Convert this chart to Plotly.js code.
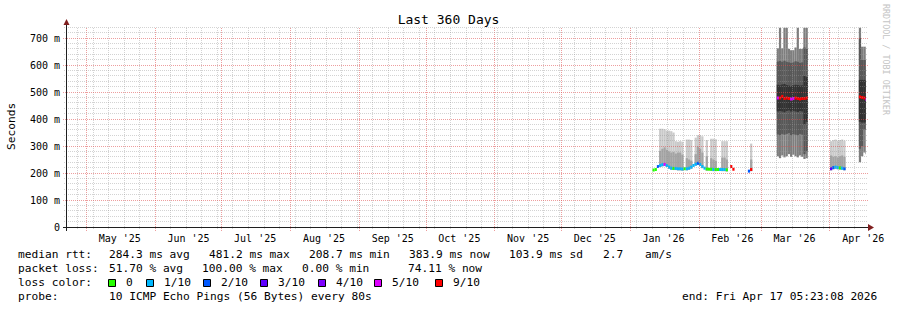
<!DOCTYPE html>
<html><head><meta charset="utf-8">
<script src="https://cdn.plot.ly/plotly-3.0.1.min.js"></script>
<style>html,body{margin:0;padding:0;background:#fff}#chart{width:897px;height:310px}</style>
</head><body><div id="chart"></div>
<script>
const _ = null;
// ---- time range ----
const rangeStart = '2025-04-22 05:23:08';
const rangeEnd = '2026-04-17 05:23:08';

// ---- daily buckets that hold data ----
const days = [
 '2026-01-11','2026-01-12','2026-01-13','2026-01-14','2026-01-15','2026-01-16','2026-01-17','2026-01-18','2026-01-19','2026-01-20',
 '2026-01-21','2026-01-22','2026-01-23','2026-01-24','2026-01-25','2026-01-26','2026-01-27','2026-01-28','2026-01-29','2026-01-30',
 '2026-01-31','2026-02-01','2026-02-02','2026-02-03','2026-02-04','2026-02-05','2026-02-06','2026-02-07','2026-02-08','2026-02-09',
 '2026-02-10','2026-02-11','2026-02-12','2026-02-13',
 '2026-02-15','2026-02-16',
 '2026-02-23','2026-02-24',
 '2026-03-08','2026-03-09','2026-03-10','2026-03-11','2026-03-12','2026-03-13','2026-03-14','2026-03-15','2026-03-16','2026-03-17',
 '2026-03-18','2026-03-19','2026-03-20','2026-03-21',
 '2026-04-01','2026-04-02','2026-04-03','2026-04-04','2026-04-05','2026-04-06','2026-04-07',
 '2026-04-14','2026-04-15','2026-04-16','2026-04-17'
];
// median rtt (ms)
const medianRtt = [
 211,213,224,228,231,232,228,222,218,217,
 217,216,216,215,216,216,218,222,228,233,
 236,232,224,218,215,214,214,213,213,213,
 213,213,213,212,
 224,214,
 207,213,
 478,478,484,476,478,476,474,476,478,476,474,476,476,478,
 216,220,222,220,219,218,216,
 482,480,478,472
];
// lost pings out of 10
const lostPings = [
 0,0,2,1,1,5,1,1,1,0,
 1,1,1,1,0,1,1,1,1,1,
 2,1,1,1,0,0,0,1,0,0,
 1,1,1,0,
 9,9,
 2,9,
 5,9,9,9,9,9,5,5,9,9,9,9,9,9,
 3,2,1,1,0,1,2,
 9,9,9,5
];
// smoke bands (ms): outer -> inner
const smoke1Lo = [
 _,_,_,222,225,226,222,216,212,211,
 211,210,210,209,_,210,212,216,_,227,
 230,226,218,_,209,_,208,207,207,_,
 _,207,207,206,
 _,_,
 _,207,
 _,_,_,_,_,_,_,_,_,_,_,_,_,_,
 210,214,216,214,213,212,210,
 _,_,_,_
];
const smoke1Hi = [
 _,_,_,364,364,362,357,357,355,350,
 318,316,318,316,_,324,324,322,_,331,
 340,340,336,_,322,_,327,327,325,_,
 _,318,318,318,
 _,_,
 _,309,
 _,_,_,_,_,_,_,_,_,_,_,_,_,_,
 318,322,324,320,322,324,320,
 _,_,_,_
];
const smoke2Lo = [
 _,_,_,222,225,226,222,216,212,211,
 211,210,210,209,_,210,212,216,_,227,
 230,226,218,_,209,_,208,207,207,_,
 _,207,207,206,
 _,_,
 _,207,
 _,_,_,_,_,_,_,_,_,_,_,_,_,_,
 210,214,216,214,213,212,210,
 _,_,_,_
];
const smoke2Hi = [
 _,_,_,282,290,295,286,280,276,278,
 272,276,276,268,_,255,250,246,_,270,
 298,290,276,_,262,_,255,250,245,_,
 _,257,257,250,
 _,_,
 _,250,
 _,_,_,_,_,_,_,_,_,_,_,_,_,_,
 265,260,262,258,262,265,260,
 _,_,_,_
];
const smoke3Lo = [
 _,_,_,_,_,_,_,_,_,_, _,_,_,_,_,_,_,_,_,_, _,_,_,_,_,_,_,_,_,_, _,_,_,_, _,_, _,_,
 262,255,265,258,262,270,260,268,262,258,265,260,252,255,
 _,_,_,_,_,_,_,
 240,262,276,270
];
const smoke3Hi = [
 _,_,_,_,_,_,_,_,_,_, _,_,_,_,_,_,_,_,_,_, _,_,_,_,_,_,_,_,_,_, _,_,_,_, _,_, _,_,
 662,738,662,738,738,660,655,655,665,738,660,660,738,738,
 _,_,_,_,_,_,_,
 738,668,668,668
];
const smoke4Lo = [
 _,_,_,_,_,_,_,_,_,_, _,_,_,_,_,_,_,_,_,_, _,_,_,_,_,_,_,_,_,_, _,_,_,_, _,_, _,_,
 343,340,345,342,345,348,340,344,342,340,345,342,270,280,
 _,_,_,_,_,_,_,
 290,300,361,360
];
const smoke4Hi = [
 _,_,_,_,_,_,_,_,_,_, _,_,_,_,_,_,_,_,_,_, _,_,_,_,_,_,_,_,_,_, _,_,_,_, _,_, _,_,
 613,615,612,616,612,610,608,610,614,612,608,610,665,660,
 _,_,_,_,_,_,_,
 700,619,619,619
];
const smoke5Lo = [
 _,_,_,_,_,_,_,_,_,_, _,_,_,_,_,_,_,_,_,_, _,_,_,_,_,_,_,_,_,_, _,_,_,_, _,_, _,_,
 428,430,428,425,430,432,428,430,428,426,430,428,380,390,
 _,_,_,_,_,_,_,
 390,387,387,390
];
const smoke5Hi = [
 _,_,_,_,_,_,_,_,_,_, _,_,_,_,_,_,_,_,_,_, _,_,_,_,_,_,_,_,_,_, _,_,_,_, _,_, _,_,
 527,525,528,530,526,524,522,525,527,526,524,525,560,555,
 _,_,_,_,_,_,_,
 545,545,545,540
];

// ---- axes ----
const monthStarts = ['2025-05-01','2025-06-01','2025-07-01','2025-08-01','2025-09-01','2025-10-01',
  '2025-11-01','2025-12-01','2026-01-01','2026-02-01','2026-03-01','2026-04-01'];
const monthLabelAt = ['2025-05-16','2025-06-16','2025-07-16','2025-08-16','2025-09-16','2025-10-16',
  '2025-11-16','2025-12-16','2026-01-16','2026-02-16','2026-03-16','2026-04-16'];
const monthLabels = ["May '25","Jun '25","Jul '25","Aug '25","Sep '25","Oct '25",
  "Nov '25","Dec '25","Jan '26","Feb '26","Mar '26","Apr '26"];
const yTickVals = [0,100,200,300,400,500,600,700];
const yTickText = ['0','100 m','200 m','300 m','400 m','500 m','600 m','700 m'];

// ---- legend / stats ----
const lossLevels = [0,1,2,3,4,5,9];
const lossNames = ['0','1/10','2/10','3/10','4/10','5/10','9/10'];
const lossColors = ['#26ff00','#00b8ff','#0059ff','#5e00ff','#7e00ff','#dd00ff','#ff0000'];
const rttStats = ['284.3 ms avg','481.2 ms max','208.7 ms min','383.9 ms now','103.9 ms sd','2.7','am/s'];
const lossStats = ['51.70 % avg','100.00 % max','0.00 % min','74.11 % now'];
const probeText = '10 ICMP Echo Pings (56 Bytes) every 80s';
const endText = 'end: Fri Apr 17 05:23:08 2026';

// ================= drawing =================
const W = 897, H = 310, L = 67, R = 31, T = 27, B = 83;
const PW = W - L - R, PH = H - T - B;
const YMAX = 741;
const DAY = 86400000;
const px = x => (x - L) / PW;          // pixel x -> paper
const py = y => (H - B - y) / PH;      // pixel y -> paper
const MONO = 'DejaVu Sans Mono';
const smokeCols = ['#cacaca','#a4a4a4','#7e7e7e','#585858','#323232'];
const t0 = Date.parse(rangeStart.replace(' ', 'T') + 'Z');
const t1 = Date.parse(rangeEnd.replace(' ', 'T') + 'Z');
// pixel column of a date (for crisp grid lines)
const colOf = d => Math.floor(L + (Date.parse(d + 'T00:00:00Z') - t0) / (t1 - t0) * PW) + 0.5;
const rowOf = v => Math.floor(H - B - v / YMAX * PH) + 0.5;

function band(lo, hi, color) {
  return {type:'bar', x: days, base: lo,
    y: hi.map((h, i) => (h == null || lo[i] == null) ? null : h - lo[i]),
    width: DAY, offset: 0, marker: {color: color, line: {width: 0}},
    hoverinfo: 'skip', showlegend: false};
}
const MED_H = 11;
const colorOfLoss = l => lossColors[lossLevels.indexOf(l)] || '#ff0000';
const traces = [
  band(smoke1Lo, smoke1Hi, smokeCols[0]),
  band(smoke2Lo, smoke2Hi, smokeCols[1]),
  band(smoke3Lo, smoke3Hi, smokeCols[2]),
  band(smoke4Lo, smoke4Hi, smokeCols[3]),
  band(smoke5Lo, smoke5Hi, smokeCols[4]),
  {type:'bar', x: days, base: medianRtt.map(m => m == null ? null : m - MED_H/2),
   y: medianRtt.map(m => m == null ? null : MED_H), width: DAY, offset: 0,
   marker: {color: lostPings.map(colorOfLoss), line: {width: 0}}, hoverinfo: 'skip', showlegend: false},
  {type:'scatter', x: [], y: [], xaxis: 'x2', yaxis: 'y', showlegend: false, hoverinfo: 'skip'}
];

// grid (drawn above data, like rrdtool)
const GRID = 'rgba(150,150,150,0.42)';
const MGRID = 'rgba(222,79,79,0.55)';
const shapes = [];
function vline(d, color, bottomPx) {
  const c = colOf(d);
  shapes.push({type:'line', layer:'above', xref:'paper', yref:'paper', x0:px(c), x1:px(c),
    y0:py(bottomPx), y1:py(T), line:{color:color, width:1, dash:'1px,1px'}});
}
// weekly minor verticals (Sundays)
{
  let t = Date.UTC(2025, 3, 27);
  while (t <= t1) {
    const d = new Date(t).toISOString().slice(0, 10);
    if (monthStarts.indexOf(d) < 0) vline(d, GRID, 229);
    t += 7 * DAY;
  }
}
monthStarts.forEach(d => vline(d, MGRID, 231));
for (let v = 20; v <= YMAX; v += 20) {
  const major = v % 100 === 0;
  const r = rowOf(v);
  shapes.push({type:'line', layer:'above', xref:'paper', yref:'paper', x0:px(major ? 63 : 64), x1:px(868),
    y0:py(r), y1:py(r), line:{color: major ? MGRID : GRID, width:1, dash:'1px,1px'}});
}
// axes + arrows
const AXIS = '#1f1f1f', ARROW = '#801f1f';
shapes.push({type:'line', layer:'above', xref:'paper', yref:'paper', x0:px(63), x1:px(869), y0:py(227.5), y1:py(227.5), line:{color:AXIS, width:1}});
shapes.push({type:'line', layer:'above', xref:'paper', yref:'paper', x0:px(66.5), x1:px(66.5), y0:py(231), y1:py(24), line:{color:AXIS, width:1}});
shapes.push({type:'path', layer:'above', xref:'paper', yref:'paper',
  path:`M${px(868)},${py(224)} L${px(874)},${py(227.5)} L${px(868)},${py(231)} Z`, fillcolor:ARROW, line:{width:0}});
shapes.push({type:'path', layer:'above', xref:'paper', yref:'paper',
  path:`M${px(63.5)},${py(25)} L${px(66.5)},${py(19)} L${px(69.5)},${py(25)} Z`, fillcolor:ARROW, line:{width:0}});

// loss colour legend squares
const squareX = [108, 146, 203, 260, 318, 374, 435];
lossColors.forEach((c, i) => shapes.push({type:'rect', layer:'above', xref:'paper', yref:'paper',
  x0:px(squareX[i] + 0.5), x1:px(squareX[i] + 7.5), y0:py(286.5), y1:py(279.5), fillcolor:c, line:{color:'#000', width:1}}));

const TXT = 11.2;
const ann = [];
function txt(x, y, s, opts) {
  ann.push(Object.assign({xref:'paper', yref:'paper', x:px(x), y:py(y), text:s, showarrow:false,
    xanchor:'left', yanchor:'middle', font:{family:MONO, size:TXT, color:'#000'}}, opts || {}));
}
txt(16, 254, 'median rtt:');
[107, 207, 307, 407, 507, 601, 643].forEach((x, i) => txt(x, 254, rttStats[i]));
txt(16, 268, 'packet loss:');
[107, 200, 300, 406].forEach((x, i) => txt(x, 268, lossStats[i]));
txt(16, 282, 'loss color:');
lossNames.forEach((n, i) => txt(squareX[i] + 16, 282, n));
txt(16, 296, 'probe:');
txt(107, 296, probeText);
txt(880, 296, endText, {xanchor:'right'});
// y title
txt(11, 127, 'Seconds', {xanchor:'center', textangle:-90});
// watermark
txt(886, 60, 'RRDTOOL / TOBI OETIKER', {xanchor:'center', textangle:90, font:{family:MONO, size:8.4, color:'#c4c4c4'}});

const layout = {
  width: W, height: H,
  margin: {l:L, r:R, t:T, b:B, pad:0},
  paper_bgcolor: '#fff', plot_bgcolor: '#fff',
  font: {family: MONO, size: 10, color: '#000'},
  title: {text: 'Last 360 Days', font: {family: MONO, size: 13, color: '#000'},
    x: 0.5, xref: 'container', xanchor: 'center', y: 1 - 19 / H, yref: 'container', yanchor: 'middle'},
  barmode: 'overlay',
  showlegend: false,
  xaxis: {type:'date', range:[rangeStart, rangeEnd], tickmode:'array', tickvals: monthStarts,
    showticklabels:false, ticks:'', showgrid:false, zeroline:false, showline:false, fixedrange:true},
  xaxis2: {type:'date', overlaying:'x', anchor:'y', side:'bottom', range:[rangeStart, rangeEnd],
    tickmode:'array', tickvals: monthLabelAt, ticktext: monthLabels, ticks:'', showgrid:false,
    zeroline:false, showline:false, tickfont:{family:MONO, size:10, color:'#000'}, ticklabelstandoff: 4, fixedrange:true},
  yaxis: {range:[0, YMAX], tickmode:'array', tickvals: yTickVals, ticktext: yTickText, ticks:'',
    showgrid:false, zeroline:false, showline:false, tickfont:{family:MONO, size:10, color:'#000'},
    ticklabelstandoff: 6, fixedrange:true},
  shapes: shapes,
  annotations: ann
};
Plotly.newPlot('chart', traces, layout, {displayModeBar:false, staticPlot:true});
</script></body></html>
